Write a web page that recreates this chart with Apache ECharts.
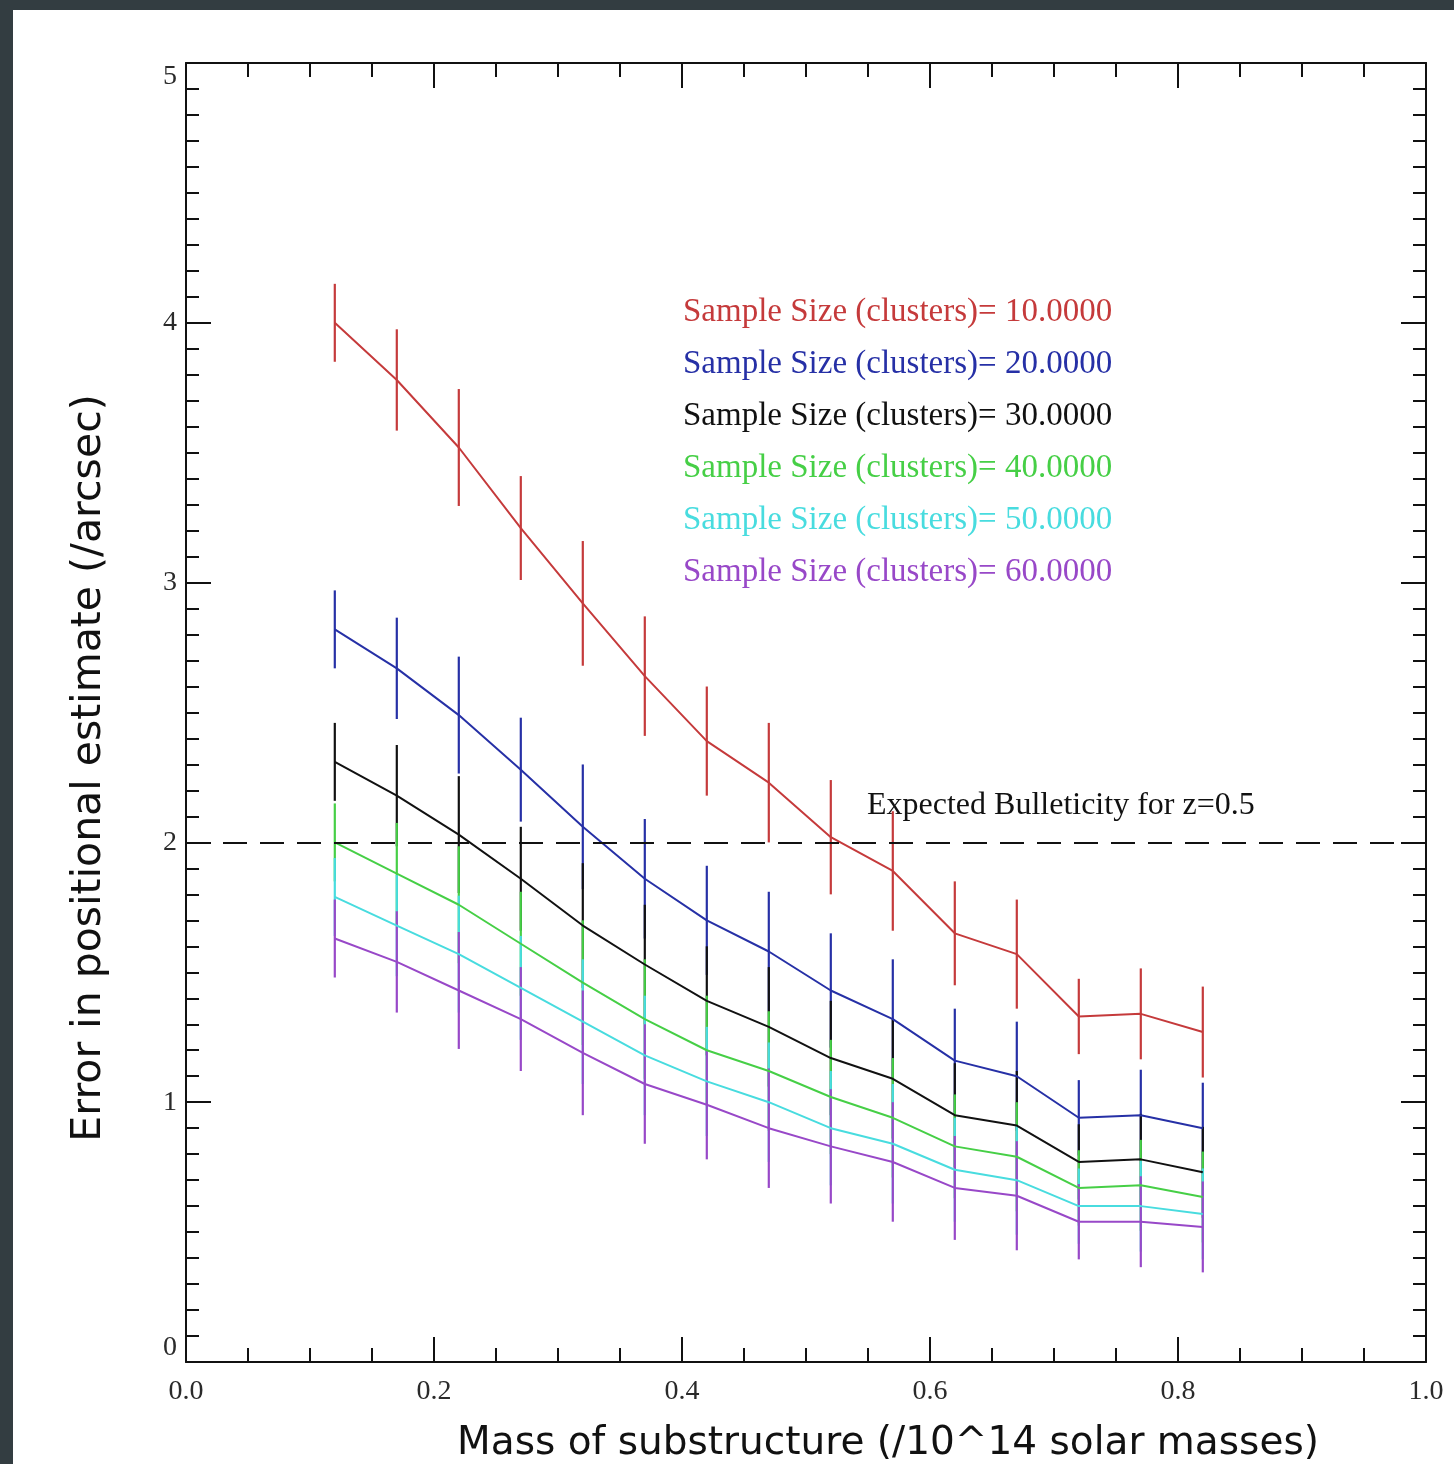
<!DOCTYPE html>
<html>
<head>
<meta charset="utf-8">
<script src="https://cdn.jsdelivr.net/npm/echarts@6/dist/echarts.min.js"></script>
<style>
  html, body { margin: 0; padding: 0; background: #333d41; }
  #panel { position: absolute; left: 13px; top: 10px; right: 0; bottom: 0; background: #ffffff; }
  #chart { position: absolute; left: 0; top: 0; width: 1454px; height: 1464px; }
</style>
</head>
<body>
<div id="panel"></div>
<div id="chart"></div>
<script>
// Substructure masses (/10^14 solar masses)
const masses = [0.12, 0.17, 0.22, 0.27, 0.32, 0.37, 0.42, 0.47, 0.52, 0.57, 0.62, 0.67, 0.72, 0.77, 0.82];

// Mean positional error (arcsec) for each sample size
const size10 = [4.00, 3.78, 3.52, 3.21, 2.92, 2.64, 2.39, 2.23, 2.02, 1.89, 1.65, 1.57, 1.33, 1.34, 1.27];
const size20 = [2.82, 2.67, 2.49, 2.28, 2.06, 1.86, 1.70, 1.58, 1.43, 1.32, 1.16, 1.10, 0.94, 0.95, 0.90];
const size30 = [2.31, 2.18, 2.03, 1.86, 1.68, 1.53, 1.39, 1.29, 1.17, 1.09, 0.95, 0.91, 0.77, 0.78, 0.73];
const size40 = [2.00, 1.88, 1.76, 1.61, 1.46, 1.32, 1.20, 1.12, 1.02, 0.94, 0.83, 0.79, 0.67, 0.68, 0.635];
const size50 = [1.79, 1.68, 1.57, 1.44, 1.31, 1.18, 1.08, 1.00, 0.90, 0.84, 0.74, 0.70, 0.60, 0.60, 0.57];
const size60 = [1.63, 1.54, 1.43, 1.32, 1.19, 1.07, 0.99, 0.90, 0.83, 0.77, 0.67, 0.64, 0.54, 0.54, 0.52];

// Half-width of the error bar at each mass (same for every sample size)
const errors = [0.15, 0.195, 0.225, 0.20, 0.24, 0.23, 0.21, 0.23, 0.22, 0.23, 0.20, 0.21, 0.145, 0.175, 0.175];

const sampleSizes = [10, 20, 30, 40, 50, 60];
const seriesValues = [size10, size20, size30, size40, size50, size60];
const seriesColors = ['#c53a3b', '#2630a6', '#111111', '#46cf46', '#48dcdf', '#9848c8'];

// Threshold line
const bulleticity = 2;
const bulleticityLabel = 'Expected Bulleticity for z=0.5';

const xTitle = 'Mass of substructure (/10^14 solar masses)';
const yTitle = 'Error in positional estimate (/arcsec)';

const axisColor = '#111111';
const tickFont = { fontFamily: 'Liberation Serif', fontSize: 28, color: '#2a2a2a' };

function frameAxis(extra) {
  return Object.assign({
    type: 'value',
    axisLine: { show: true, onZero: false, lineStyle: { color: axisColor, width: 2 } },
    axisTick: { show: true, inside: true, length: 25, lineStyle: { color: axisColor, width: 2 } },
    splitLine: { show: false }
  }, extra);
}

const series = [];
seriesValues.forEach((vals, k) => {
  const color = seriesColors[k];
  const line = {
    type: 'line',
    name: 'n' + sampleSizes[k],
    data: masses.map((m, i) => [m, vals[i]]),
    symbol: 'none',
    showSymbol: false,
    silent: true,
    animation: false,
    lineStyle: { color: color, width: 2 },
    itemStyle: { color: color },
    z: 2
  };
  if (k === 0) {
    line.markLine = {
      silent: true,
      symbol: ['none', 'none'],
      animation: false,
      label: { show: false },
      lineStyle: { color: axisColor, width: 2, type: [24, 13] },
      data: [{ yAxis: bulleticity }]
    };
  }
  series.push(line);
  series.push({
    type: 'custom',
    name: 'err' + sampleSizes[k],
    data: masses.map((m, i) => [m, vals[i] - errors[i], vals[i] + errors[i]]),
    encode: { x: 0, y: [1, 2] },
    silent: true,
    animation: false,
    z: 2,
    renderItem: function (params, api) {
      const p1 = api.coord([api.value(0), api.value(1)]);
      const p2 = api.coord([api.value(0), api.value(2)]);
      return {
        type: 'line',
        shape: { x1: p1[0], y1: p1[1], x2: p2[0], y2: p2[1] },
        style: { stroke: color, lineWidth: 2.2 }
      };
    }
  });
});

const legendTexts = sampleSizes.map((s, k) => ({
  type: 'text',
  x: 683,
  y: 312 + k * 52,
  silent: true,
  style: {
    text: 'Sample Size (clusters)= ' + s.toFixed(4),
    fill: seriesColors[k],
    font: '33px "Liberation Serif"',
    verticalAlign: 'middle'
  }
}));

const titleTexts = [
  {
    type: 'text',
    x: 888,
    y: 1444,
    silent: true,
    style: {
      text: xTitle,
      fill: '#111111',
      font: '39px "DejaVu Sans"',
      align: 'center',
      verticalAlign: 'middle'
    }
  },
  {
    type: 'text',
    x: 89,
    y: 768,
    rotation: Math.PI / 2,
    silent: true,
    style: {
      text: yTitle,
      fill: '#111111',
      font: '41px "DejaVu Sans"',
      align: 'center',
      verticalAlign: 'middle'
    }
  }
];

const chart = echarts.init(document.getElementById('chart'), null, { renderer: 'canvas' });
chart.setOption({
  backgroundColor: 'transparent',
  animation: false,
  grid: { left: 186, top: 63, right: 28, bottom: 102, containLabel: false, outerBoundsMode: 'none' },
  xAxis: [
    frameAxis({
      position: 'bottom', min: 0, max: 1, interval: 0.2,
      minorTick: { show: true, splitNumber: 4, length: 14, lineStyle: { color: axisColor, width: 2 } },
      axisLabel: Object.assign({ margin: 16, showMinLabel: true, showMaxLabel: true,
        formatter: v => v.toFixed(1) }, tickFont)
    }),
    frameAxis({
      position: 'top', min: 0, max: 1, interval: 0.2,
      minorTick: { show: true, splitNumber: 4, length: 14, lineStyle: { color: axisColor, width: 2 } },
      axisLabel: { show: false }
    })
  ],
  yAxis: [
    frameAxis({
      position: 'left', min: 0, max: 5, interval: 1,
      minorTick: { show: true, splitNumber: 10, length: 13, lineStyle: { color: axisColor, width: 2 } },
      axisLabel: Object.assign({ margin: 9, showMinLabel: true, showMaxLabel: true,
        verticalAlignMinLabel: 'bottom', verticalAlignMaxLabel: 'top' }, tickFont)
    }),
    frameAxis({
      position: 'right', min: 0, max: 5, interval: 1,
      minorTick: { show: true, splitNumber: 10, length: 13, lineStyle: { color: axisColor, width: 2 } },
      axisLabel: { show: false }
    })
  ],
  graphic: legendTexts.concat(titleTexts, [{
    type: 'text',
    x: 867,
    y: 806,
    silent: true,
    style: {
      text: bulleticityLabel,
      fill: '#111111',
      font: '32px "Liberation Serif"',
      verticalAlign: 'middle'
    }
  }]),
  series: series
});
</script>
</body>
</html>
